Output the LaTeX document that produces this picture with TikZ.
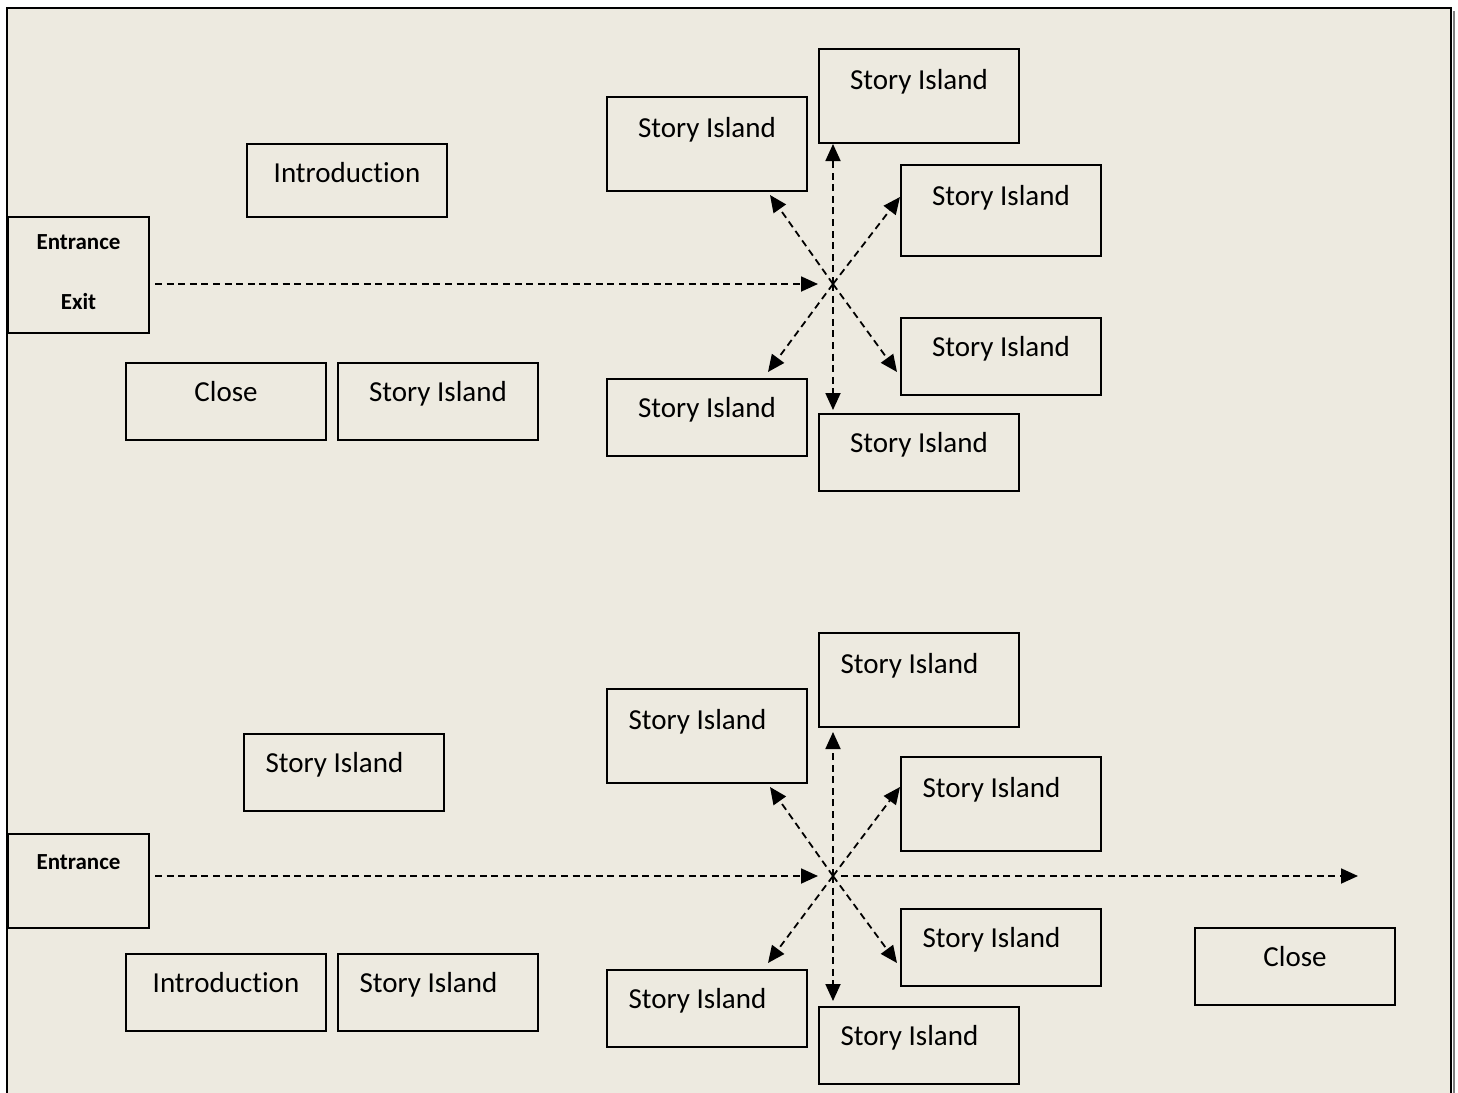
\documentclass[tikz,border=0pt]{standalone}
\usepackage{fontspec}
\setmainfont[Ligatures=NoCommon]{Carlito}
\usetikzlibrary{arrows.meta}
\definecolor{paper}{RGB}{237,234,224}
\newcommand{\tailgap}{\hspace*{9.5pt}}

\tikzset{
  island/.style={draw, line width=1pt, fill=paper, inner sep=0pt, anchor=north west,
    minimum width=100pt, font=\fontsize{14.5}{17}\selectfont},
  tall/.style={island, text height=20pt, text depth=27pt},
  short/.style={island, text height=19pt, text depth=19.5pt},
  door/.style={draw, line width=1pt, fill=paper, inner sep=0pt, anchor=north west,
    minimum width=70.5pt, align=center, font=\fontsize{11.5}{14}\selectfont\bfseries},
  trail/.style={line width=0.9pt, dash pattern=on 3.5pt off 2.3pt,
    -{Triangle[length=8.5pt,width=7.5pt]}}
}

\begin{document}
\begin{tikzpicture}[x=0.5pt,y=-0.5pt]
\useasboundingbox (0,0) rectangle (1458,1093);
\fill[white] (0,0) rectangle (1458,1093);
\fill[paper] (7,8) rectangle (1451,1093);
\draw[gray, line width=1pt] (1454,11) -- (1454,1093);
\draw[line width=1.2pt] (7,1093) -- (7,8) -- (1451,8) -- (1451,1093);

% first floor
\node[short, text depth=17.5pt] (intro1) at (246,143) {Introduction};
\node[door, text height=46pt, text depth=12pt] (gate1) at (7,216) {Entrance\\[16pt]Exit};
\node[short] (close1) at (125,362) {Close};
\node[short] (isle1) at (337,362) {Story Island};
\node[tall] (sa1) at (606,96) {Story Island};
\node[tall] (sb1) at (818,48) {Story Island};
\node[tall, text depth=25.5pt] (sc1) at (900,164) {Story Island};
\node[short] (sd1) at (900,317) {Story Island};
\node[short] (se1) at (606,378) {Story Island};
\node[short] (sf1) at (818,413) {Story Island};
\coordinate (hub1) at (833,284);
\coordinate (ul1) at (770,195);
\coordinate (ur1) at (900,197);
\coordinate (ll1) at (768,372);
\coordinate (lr1) at (897,372);
\draw[trail, shorten <=2.5pt, shorten >=7.5pt] (gate1.east |- hub1) -- (hub1);
\draw[trail] (hub1) -- (hub1 |- sb1.south);
\draw[trail, shorten >=1.5pt] (hub1) -- (hub1 |- sf1.north);
\draw[trail] (hub1) -- (ul1);
\draw[trail] (hub1) -- (ur1);
\draw[trail] (hub1) -- (ll1);
\draw[trail] (hub1) -- (lr1);

% second floor
\node[short] (isle2) at (243,733) {Story Island\tailgap};
\node[door, text height=17.5pt, text depth=29.5pt] (gate2) at (7,833) {Entrance};
\node[short] (intro2) at (125,953) {Introduction};
\node[short] (isle3) at (337,953) {Story Island\tailgap};
\node[tall] (sa2) at (606,688) {Story Island\tailgap};
\node[tall] (sb2) at (818,632) {Story Island\tailgap};
\node[tall] (sc2) at (900,756) {Story Island\tailgap};
\node[short] (sd2) at (900,908) {Story Island\tailgap};
\node[short] (se2) at (606,969) {Story Island\tailgap};
\node[short] (sf2) at (818,1006) {Story Island\tailgap};
\node[short] (close2) at (1194,927) {Close};
\coordinate (hub2) at (833,876);
\coordinate (ul2) at (770,787);
\coordinate (ur2) at (900,787);
\coordinate (ll2) at (768,963);
\coordinate (lr2) at (897,963);
\coordinate (out2) at (1358,876);
\draw[trail, shorten <=2.5pt, shorten >=7.5pt] (gate2.east |- hub2) -- (hub2);
\draw[trail, shorten <=4pt] (hub2) -- (out2);
\draw[trail, shorten >=2pt] (hub2) -- (hub2 |- sb2.south);
\draw[trail, shorten >=2.5pt] (hub2) -- (hub2 |- sf2.north);
\draw[trail] (hub2) -- (ul2);
\draw[trail] (hub2) -- (ur2);
\draw[trail] (hub2) -- (ll2);
\draw[trail] (hub2) -- (lr2);
\end{tikzpicture}
\end{document}
